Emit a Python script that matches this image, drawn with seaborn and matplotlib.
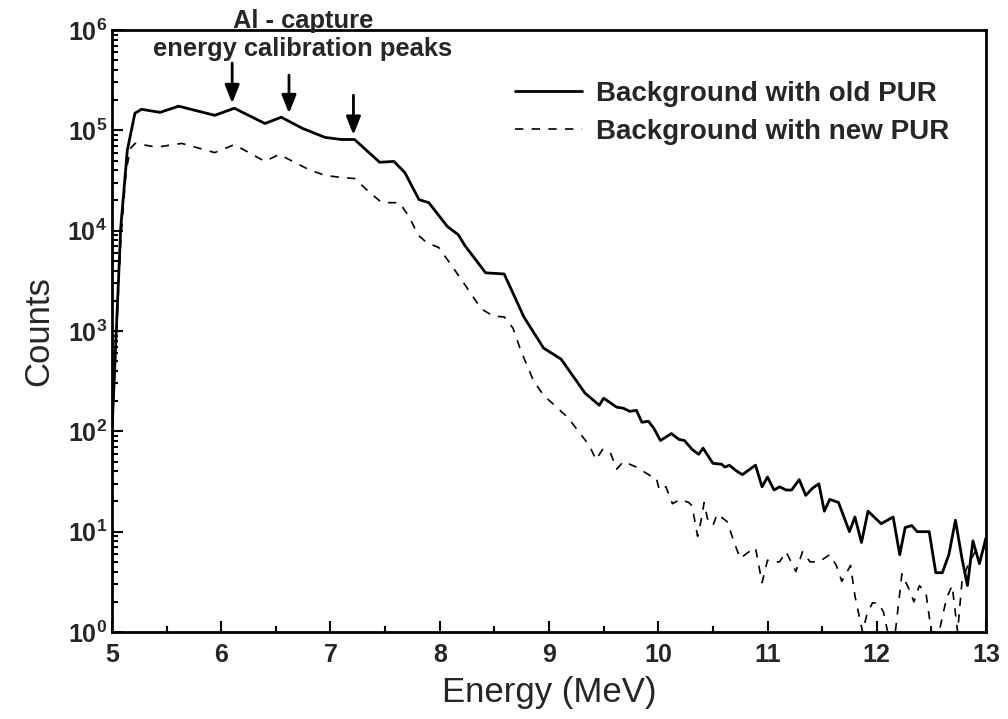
import numpy as np
import pandas as pd
import matplotlib
matplotlib.use("Agg")
import matplotlib.pyplot as plt
import seaborn as sns
from matplotlib.ticker import LogLocator, MultipleLocator, FuncFormatter, NullFormatter

# ---------------- data ----------------
old_energy = [5.00, 5.08, 5.14, 5.21, 5.27, 5.44, 5.61, 5.94, 6.12, 6.40, 6.55, 6.74, 6.95, 7.10,
              7.22, 7.45, 7.58, 7.68, 7.81, 7.90, 8.07, 8.17, 8.23, 8.42, 8.59, 8.77, 8.95, 9.11,
              9.22, 9.33, 9.46, 9.50, 9.62, 9.68, 9.74, 9.80, 9.85, 9.91, 9.96, 10.02, 10.12, 10.19,
              10.24, 10.31, 10.37, 10.41, 10.50, 10.58, 10.61, 10.65, 10.72, 10.77, 10.89, 10.95,
              11.00, 11.06, 11.11, 11.17, 11.22, 11.29, 11.35, 11.41, 11.47, 11.52, 11.57, 11.65,
              11.75, 11.80, 11.86, 11.92, 12.04, 12.15, 12.21, 12.26, 12.32, 12.37, 12.48, 12.54,
              12.60, 12.66, 12.72, 12.78, 12.83, 12.88, 12.94, 13.00]
old_counts = [100, 10700, 63000, 148000, 162000, 151000, 174000, 141000, 166000, 117000, 135000,
              105000, 85000, 81000, 81000, 48000, 49000, 38000, 20400, 19000, 11000, 9100, 7100,
              3800, 3700, 1380, 676, 525, 355, 240, 182, 214, 174, 170, 158, 162, 123, 126, 107,
              81, 95, 83, 81, 66, 59, 68, 48, 47, 44, 46, 40, 37, 46, 28, 35, 26, 28, 26, 26, 33,
              23, 27, 30, 16, 21, 19.5, 10, 14, 7.8, 16, 12, 14, 5.9, 11, 11.5, 10, 10, 3.9, 3.9,
              5.9, 13, 5.4, 2.9, 8.1, 4.8, 8.7]

new_energy = [5.00, 5.08, 5.13, 5.17, 5.21, 5.41, 5.64, 5.94, 6.12, 6.40, 6.53, 6.80, 6.95, 7.10,
              7.22, 7.35, 7.47, 7.63, 7.72, 7.80, 7.88, 7.99, 8.09, 8.22, 8.38, 8.49, 8.59, 8.67,
              8.74, 8.86, 8.95, 9.05, 9.17, 9.27, 9.37, 9.43, 9.49, 9.56, 9.62, 9.68, 9.80, 9.93,
              9.98, 10.01, 10.07, 10.13, 10.20, 10.28, 10.31, 10.36, 10.39, 10.42, 10.45, 10.50,
              10.54, 10.63, 10.69, 10.75, 10.82, 10.89, 10.95, 11.00, 11.05, 11.11, 11.17, 11.26,
              11.32, 11.39, 11.47, 11.57, 11.63, 11.68, 11.76, 11.80, 11.87, 11.91, 11.96, 12.01,
              12.06, 12.10, 12.17, 12.23, 12.30, 12.34, 12.39, 12.45, 12.50, 12.57, 12.64, 12.69,
              12.74, 12.78, 12.83, 12.90, 12.95, 13.00]
new_counts = [100, 7900, 40000, 66000, 74000, 68000, 74000, 60000, 72000, 49000, 57500, 40700,
              35500, 33900, 33100, 24500, 19000, 19000, 13800, 9100, 7600, 6800, 4800, 3000, 1660,
              1410, 1380, 1070, 646, 316, 229, 182, 138, 100, 72, 52, 66, 62, 42, 50, 44, 36, 35,
              26, 28, 19, 21, 19.5, 18, 9, 12.6, 19.5, 13.5, 11.5, 15, 12.6, 8.1, 5.4, 6.2, 6.9,
              3.1, 5.2, 5, 5, 6.3, 4, 6.3, 5, 5, 5.9, 4.6, 3.2, 4.6, 2.3, 1, 1.5, 1.95, 1.95, 1.6,
              1, 1, 3.8, 2.6, 2, 2.9, 2.45, 1, 1, 2.2, 2.9, 1, 3.2, 4.5, 6.3, 5.6, 7.9]

series_labels = ["Background with old PUR", "Background with new PUR"]
x_label = "Energy (MeV)"
y_label = "Counts"
annot_title = "Al - capture"
annot_sub = "energy calibration peaks"
peak_energies = [6.10, 6.62, 7.21]

# ---------------- style ----------------
sns.set_style("ticks")
plt.rcParams["font.family"] = ["Liberation Sans", "DejaVu Sans"]
plt.rcParams["mathtext.fontset"] = "custom"
plt.rcParams["mathtext.rm"] = "Liberation Sans:bold"
plt.rcParams["mathtext.default"] = "rm"

df_old = pd.DataFrame({"Energy": old_energy, "Counts": old_counts})
df_new = pd.DataFrame({"Energy": new_energy, "Counts": new_counts})

fig = plt.figure(figsize=(10.08, 7.19), dpi=100)
ax = fig.add_axes([0.1111, 0.1210, 0.8671, 0.8373])

sns.lineplot(data=df_old, x="Energy", y="Counts", ax=ax, color="black", lw=2.0,
             sort=False, errorbar=None, label=series_labels[0])
sns.lineplot(data=df_new, x="Energy", y="Counts", ax=ax, color="black", lw=1.2,
             sort=False, errorbar=None, label=series_labels[1], dashes=False)
ax.get_lines()[1].set_dashes((5, 5))

ax.set_yscale("log")
ax.set_xlim(5, 13)
ax.set_ylim(1, 1e6)

ax.xaxis.set_major_locator(MultipleLocator(1))
ax.xaxis.set_minor_locator(MultipleLocator(0.5))
ax.yaxis.set_major_locator(LogLocator(base=10, numticks=10))
ax.yaxis.set_minor_locator(LogLocator(base=10, subs=np.arange(2, 10), numticks=20))
ax.yaxis.set_minor_formatter(NullFormatter())
ax.yaxis.set_major_formatter(FuncFormatter(lambda v, p: r"$\mathrm{10^{%d}}$" % int(round(np.log10(v)))))

ax.tick_params(which="both", direction="in", top=False, right=False, color="black", width=1.5)
ax.tick_params(which="major", length=8, labelsize=18)
ax.tick_params(axis="x", which="major", pad=8)
ax.tick_params(axis="y", which="major", pad=3.5)
ax.tick_params(which="minor", length=4.5)
for lab in ax.get_xticklabels() + ax.get_yticklabels():
    lab.set_fontweight("bold")

for s in ax.spines.values():
    s.set_linewidth(2.0)
    s.set_color("black")

ax.set_xlabel(x_label, fontsize=25)
ax.set_ylabel(y_label, fontsize=25)
ax.xaxis.set_label_coords(0.5, -0.073)
ax.yaxis.set_label_coords(-0.065, 0.5)

# annotations
xt = ax.get_xaxis_transform()
ax.text(6.75, 1.003, annot_title, transform=xt, ha="center", va="baseline",
        fontsize=18.4, fontweight="bold", clip_on=False)
ax.text(6.74, 0.956, annot_sub, transform=xt, ha="center", va="baseline",
        fontsize=18.4, fontweight="bold")
arrow_tails = [10**5.67, 10**5.55, 10**5.35]
arrow_tips = [10**5.27, 10**5.17, 10**4.955]
for e, t0, t1 in zip(peak_energies, arrow_tails, arrow_tips):
    ax.annotate("", xy=(e, t1), xytext=(e, t0),
                arrowprops=dict(arrowstyle="-|>,head_length=0.55,head_width=0.22",
                                lw=2, color="black", mutation_scale=20,
                                shrinkA=0, shrinkB=0))

handles = ax.get_lines()[:2]
ax.legend(handles, series_labels, loc="upper left", bbox_to_anchor=(0.511, 0.888),
          bbox_transform=fig.transFigure, frameon=False, borderpad=0, borderaxespad=0,
          handlelength=2.4, handletextpad=0.5, labelspacing=0.45,
          prop={"weight": "bold", "size": 20})

fig.savefig("out.png", dpi=100)
